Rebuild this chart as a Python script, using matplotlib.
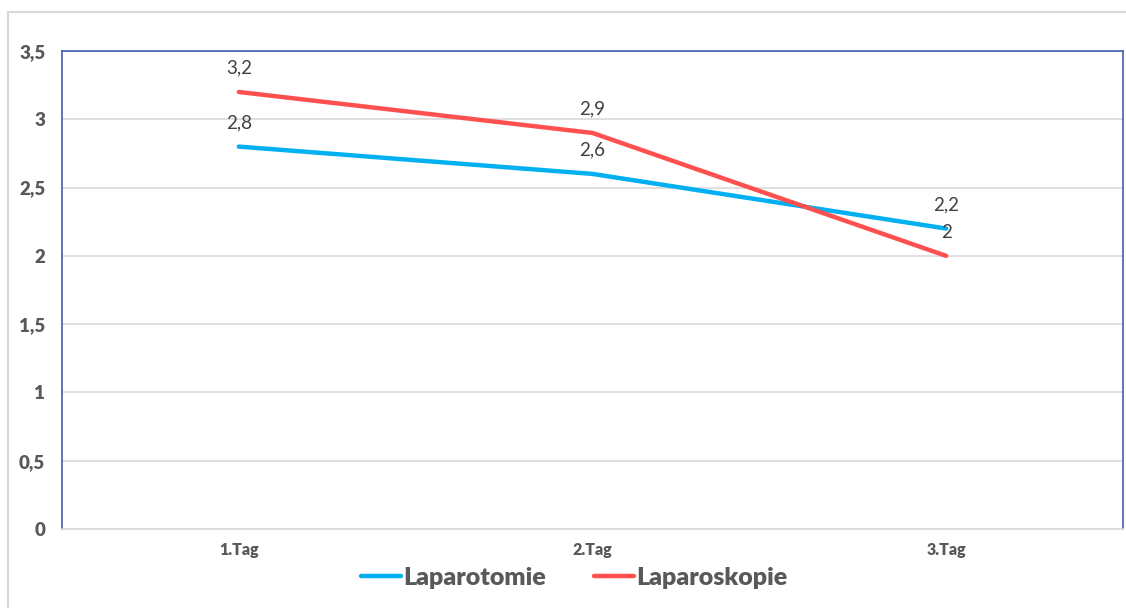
import numpy as np
import matplotlib.pyplot as plt
from matplotlib.patches import Rectangle

days = ['1.Tag', '2.Tag', '3.Tag']
laparotomie = [2.8, 2.6, 2.2]
laparoskopie = [3.2, 2.9, 2.0]
yticks = [0, 0.5, 1, 1.5, 2, 2.5, 3, 3.5]

def de(v):
    return ('%g' % v).replace('.', ',')

plt.rcParams['font.family'] = ['Lato', 'DejaVu Sans']

fig = plt.figure(figsize=(11.26, 6.08), dpi=100)
ax = fig.add_axes([62/1126, 1 - 529/608, (1123 - 62)/1126, (529 - 51)/608])

# outer chart frame
fig.patches.append(Rectangle((8/1126, -0.05), 1.1, 1 - 12/608 + 0.05,
                             transform=fig.transFigure, fill=False,
                             edgecolor='#d9d9d9', linewidth=1.5))

x = np.arange(len(days))
ax.plot(x, laparotomie, color='#00B0F0', linewidth=3.2, solid_capstyle='round',
        label='Laparotomie')
ax.plot(x, laparoskopie, color='#FF5050', linewidth=3.2, solid_capstyle='round',
        label='Laparoskopie')

for xi, v in zip(x, laparotomie):
    ax.annotate(de(v), (xi, v), xytext=(0, 11), textcoords='offset points',
                ha='center', va='bottom', fontsize=13.5, color='#404040')
for xi, v in zip(x, laparoskopie):
    ax.annotate(de(v), (xi, v), xytext=(0, 11), textcoords='offset points',
                ha='center', va='bottom', fontsize=13.5, color='#404040')

ax.set_xlim(-0.5, 2.5)
ax.set_ylim(0, 3.5)
ax.set_xticks(x)
ax.set_xticklabels(days, fontsize=11.5, fontweight='heavy', color='#595959')
ax.set_yticks(yticks)
ax.set_yticklabels([de(v) for v in yticks], fontsize=13.5, fontweight='heavy', color='#595959')
ax.tick_params(axis='both', length=0)
ax.tick_params(axis='y', pad=12)
ax.tick_params(axis='x', pad=9)
ax.grid(axis='y', color='#d9d9d9', linewidth=1.2)
ax.set_axisbelow(True)

for s in ['left', 'top', 'right']:
    ax.spines[s].set_color('#3F5FAF')
    ax.spines[s].set_linewidth(1.2)
ax.spines['bottom'].set_color('#d9d9d9')
ax.spines['bottom'].set_linewidth(1.2)

fig.legend(loc='center', bbox_to_anchor=(0.51, 0.049), ncol=2, frameon=False,
           prop={'size': 18, 'weight': 'heavy'}, labelcolor='#595959',
           handlelength=1.6, handletextpad=0.1, columnspacing=1.9)

fig.savefig('out.png', dpi=100)
